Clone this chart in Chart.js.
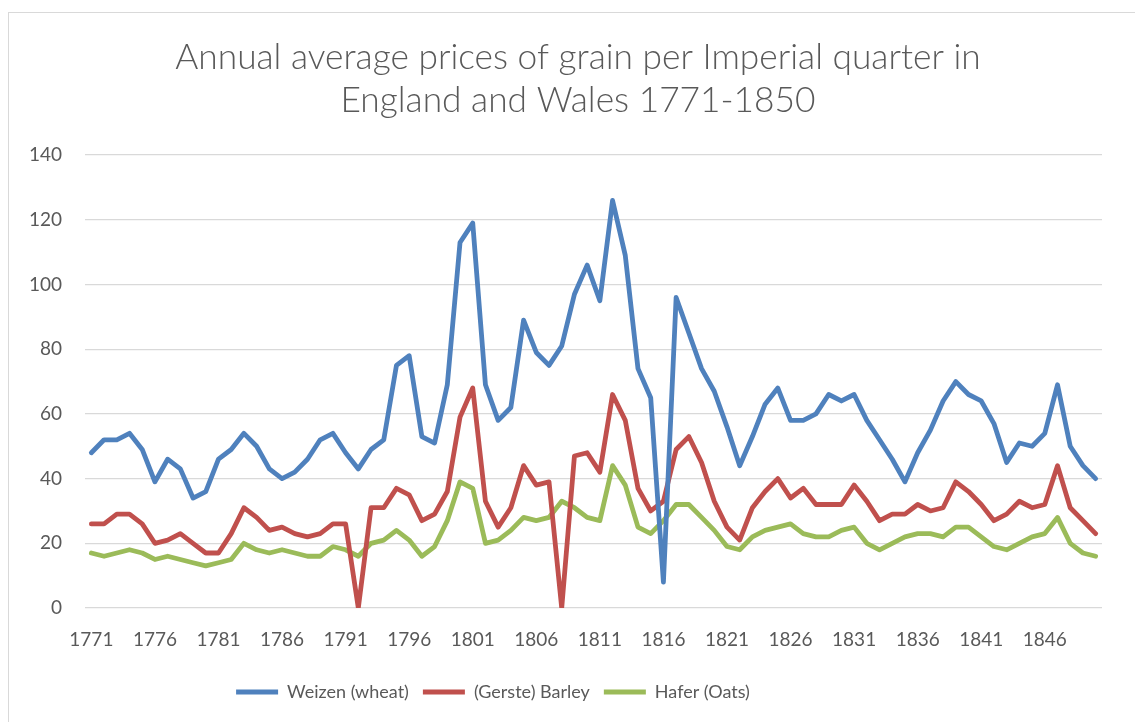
<!DOCTYPE html>
<html>
<head>
<meta charset="utf-8">
<script src="https://cdn.jsdelivr.net/npm/chart.js@4/dist/chart.umd.min.js"></script>
<style>
  html, body { margin: 0; padding: 0; background: #ffffff; }
  #wrap { position: relative; width: 1135px; height: 722px; overflow: hidden; }
  #frame { position: absolute; left: 8px; top: 12px; width: 1200px; height: 800px; border: 1px solid #d9d9d9; box-sizing: border-box; }
  #c { position: absolute; left: 0; top: 0; }
</style>
</head>
<body>
<div id="wrap">
  <div id="frame"></div>
  <canvas id="c" width="1135" height="722"></canvas>
</div>
<script>
const years = ["1771","1772","1773","1774","1775","1776","1777","1778","1779","1780",
  "1781","1782","1783","1784","1785","1786","1787","1788","1789","1790",
  "1791","1792","1793","1794","1795","1796","1797","1798","1799","1800",
  "1801","1802","1803","1804","1805","1806","1807","1808","1809","1810",
  "1811","1812","1813","1814","1815","1816","1817","1818","1819","1820",
  "1821","1822","1823","1824","1825","1826","1827","1828","1829","1830",
  "1831","1832","1833","1834","1835","1836","1837","1838","1839","1840",
  "1841","1842","1843","1844","1845","1846","1847","1848","1849","1850"];

const wheat = [48,52,52,54,49,39,46,43,34,36,
  46,49,54,50,43,40,42,46,52,54,
  48,43,49,52,75,78,53,51,69,113,
  119,69,58,62,89,79,75,81,97,106,
  95,126,109,74,65,8,96,85,74,67,
  56,44,53,63,68,58,58,60,66,64,
  66,58,52,46,39,48,55,64,70,66,
  64,57,45,51,50,54,69,50,44,40];

const barley = [26,26,29,29,26,20,21,23,20,17,
  17,23,31,28,24,25,23,22,23,26,
  26,0,31,31,37,35,27,29,36,59,
  68,33,25,31,44,38,39,0,47,48,
  42,66,58,37,30,33,49,53,45,33,
  25,21,31,36,40,34,37,32,32,32,
  38,33,27,29,29,32,30,31,39,36,
  32,27,29,33,31,32,44,31,27,23];

const oats = [17,16,17,18,17,15,16,15,14,13,
  14,15,20,18,17,18,17,16,16,19,
  18,16,20,21,24,21,16,19,27,39,
  37,20,21,24,28,27,28,33,31,28,
  27,44,38,25,23,27,32,32,28,24,
  19,18,22,24,25,26,23,22,22,24,
  25,20,18,20,22,23,23,22,25,25,
  22,19,18,20,22,23,28,20,17,16];

const seriesNames = ["Weizen (wheat)", "(Gerste) Barley", "Hafer (Oats)"];
const titleLines = ["Annual average prices of grain per Imperial quarter in", "England and Wales 1771-1850"];
const yTicks = { min: 0, max: 140, step: 20 };

const FONT = "Lato, 'Open Sans', 'DejaVu Sans', sans-serif";
const TXT = "#595959";

function ds(label, data, color) {
  return {
    label: label, data: data,
    borderColor: color, backgroundColor: color,
    borderWidth: 4.8, pointRadius: 0, pointHoverRadius: 0,
    tension: 0, borderCapStyle: 'round', borderJoinStyle: 'round',
    pointStyle: 'line'
  };
}

// shifts the centred title and legend boxes horizontally, as in the original layout
const boxShift = {
  id: 'boxShift',
  afterLayout(chart) {
    const t = chart.titleBlock, l = chart.legend;
    if (t) { t.left += 27; t.right += 27; }
    if (l) { l.left -= 58; l.right -= 58; }
  }
};

new Chart(document.getElementById('c'), {
  type: 'line',
  data: {
    labels: years,
    datasets: [
      ds(seriesNames[0], wheat, '#4f81bd'),
      ds(seriesNames[1], barley, '#c0504d'),
      ds(seriesNames[2], oats, '#9bbb59')
    ]
  },
  plugins: [boxShift],
  options: {
    responsive: false,
    animation: false,
    devicePixelRatio: 1,
    layout: { padding: { left: 0, right: 33, top: 0, bottom: 11 } },
    plugins: {
      title: {
        display: true,
        text: titleLines,
        color: TXT,
        font: { family: FONT, size: 35.3, weight: '300', lineHeight: 1.22 },
        padding: { top: 36, bottom: 33 }
      },
      legend: {
        display: true,
        position: 'bottom',
        labels: {
          color: TXT,
          font: { family: FONT, size: 18 },
          usePointStyle: true,
          pointStyle: 'line',
          pointStyleWidth: 42,
          boxHeight: 18,
          padding: 14
        }
      },
      tooltip: { enabled: false }
    },
    scales: {
      x: {
        type: 'category',
        offset: true,
        grid: { display: false, drawTicks: false },
        border: { display: false },
        ticks: {
          autoSkip: false, maxRotation: 0, minRotation: 0,
          color: TXT, font: { family: FONT, size: 19 }, padding: 20,
          callback: function (v, i) { return i % 5 === 0 ? this.getLabelForValue(v) : ''; }
        },
        afterFit: function (s) { s.height = 61; }
      },
      y: {
        min: yTicks.min, max: yTicks.max,
        grid: { color: '#d9d9d9', lineWidth: 1.3, drawTicks: false },
        border: { display: false },
        ticks: {
          stepSize: yTicks.step, color: TXT, font: { family: FONT, size: 19 }, padding: 23
        },
        afterFit: function (s) { s.width = 85; }
      }
    }
  }
});
</script>
</body>
</html>
